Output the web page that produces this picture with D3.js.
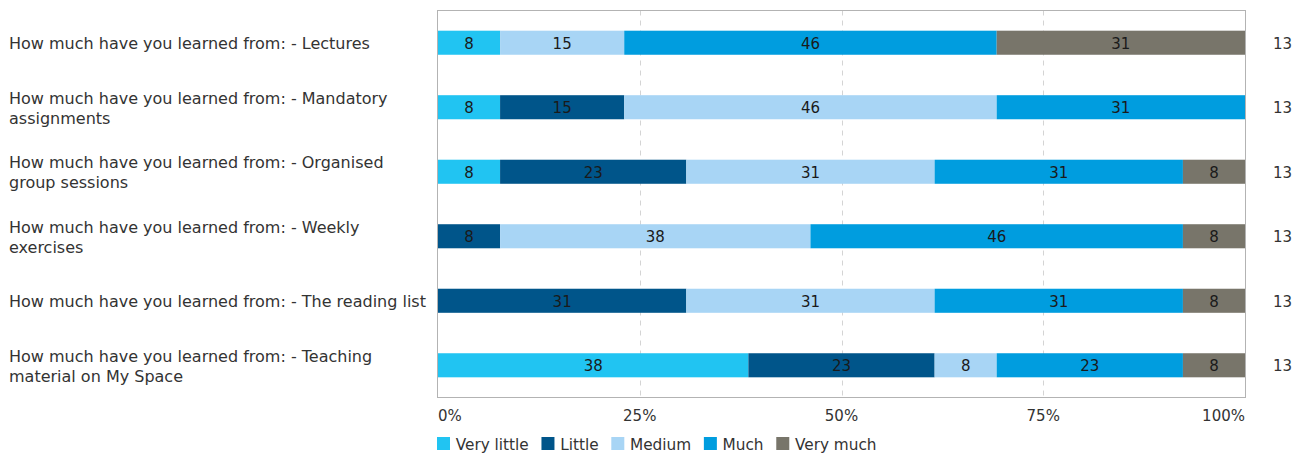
<!DOCTYPE html>
<html><head><meta charset="utf-8">
<script src="https://cdn.jsdelivr.net/npm/d3@7"></script>
<style>
body{margin:0;background:#fff;}
text{font-family:"DejaVu Sans",Verdana,sans-serif;}
</style></head>
<body><svg id="c" width="1295" height="454"></svg>
<script>
// Data: number of respondents per answer (n = 13 per question)
const categories = [
  "How much have you learned from: - Lectures",
  "How much have you learned from: - Mandatory\nassignments",
  "How much have you learned from: - Organised\ngroup sessions",
  "How much have you learned from: - Weekly\nexercises",
  "How much have you learned from: - The reading list",
  "How much have you learned from: - Teaching\nmaterial on My Space"
];
const seriesNames = ["Very little", "Little", "Medium", "Much", "Very much"];
const veryLittle = [1, 1, 1, 0, 0, 5];
const little     = [0, 2, 3, 1, 4, 3];
const medium     = [2, 6, 4, 5, 4, 1];
const much       = [6, 4, 4, 6, 4, 3];
const veryMuch   = [4, 0, 1, 1, 1, 1];
const totals     = [13, 13, 13, 13, 13, 13];
const tickValues = [0, 0.25, 0.5, 0.75, 1];
const tickLabels = ["0%", "25%", "50%", "75%", "100%"];
const colors = ["#21c4f2", "#00558a", "#a8d5f5", "#009ddf", "#78756a"];

(function(){
const series = [veryLittle, little, medium, much, veryMuch];
const svg = d3.select("#c");
const fs = 15, fsLabel = 16, fsLegend = 15.3;
const pL = 437.5, pR = 1245.5, pT = 10.5, pB = 397.5;

const x = d3.scaleLinear().domain([0, 1]).range([438, 1245]);
const y = d3.scaleBand().domain(d3.range(categories.length)).range([pT, pB]).paddingInner(0.627).paddingOuter(0.313);

svg.append("g").selectAll("line").data([0.25, 0.5, 0.75]).join("line")
  .attr("x1", d => Math.round(x(d)) + 0.5).attr("x2", d => Math.round(x(d)) + 0.5)
  .attr("y1", pT).attr("y2", pB)
  .attr("stroke", "#d4d4d4").attr("stroke-width", 1).attr("stroke-dasharray", "5,5");

svg.append("rect").attr("x", pL).attr("y", pT).attr("width", pR - pL).attr("height", pB - pT)
  .attr("fill", "none").attr("stroke", "#b3b3b3").attr("stroke-width", 1);

categories.forEach((c, i) => {
  let cum = 0;
  const g = svg.append("g");
  series.forEach((s, j) => {
    const v = s[i];
    if (v > 0) {
      const x0 = x(cum / totals[i]), x1 = x((cum + v) / totals[i]);
      g.append("rect").attr("x", x0).attr("y", y(i)).attr("width", x1 - x0).attr("height", y.bandwidth())
        .attr("fill", colors[j]);
      g.append("text").attr("x", (x0 + x1) / 2).attr("y", y(i) + y.bandwidth() / 2 + 1)
        .attr("text-anchor", "middle").attr("dominant-baseline", "central")
        .attr("font-size", fs).attr("fill", "#1a1a1a")
        .text(Math.round(v / totals[i] * 100));
    }
    cum += v;
  });
  const lines = c.split("\n");
  const cy = y(i) + y.bandwidth() / 2;
  const lh = 20;
  const t = svg.append("text").attr("x", 9).attr("font-size", fsLabel).attr("fill", "#333");
  lines.forEach((ln, k) => {
    t.append("tspan").attr("x", 9).attr("y", cy + 1 + (k - (lines.length - 1) / 2) * lh)
      .attr("dominant-baseline", "central").text(ln);
  });
  svg.append("text").attr("x", 1273).attr("y", cy + 1).attr("dominant-baseline", "central")
    .attr("font-size", fs).attr("fill", "#333").text(totals[i]);
});

svg.append("g").selectAll("text").data(tickValues).join("text")
  .attr("x", d => x(d)).attr("y", 416).attr("dominant-baseline", "central")
  .attr("text-anchor", (d, i) => i === 0 ? "start" : (i === tickValues.length - 1 ? "end" : "middle"))
  .attr("font-size", fs).attr("fill", "#333")
  .text((d, i) => tickLabels[i]);

const lg = svg.append("g");
let lx = 437;
seriesNames.forEach((n, j) => {
  lg.append("rect").attr("x", lx).attr("y", 437).attr("width", 13).attr("height", 13).attr("fill", colors[j]);
  const t = lg.append("text").attr("x", lx + 18.7).attr("y", 444.5).attr("dominant-baseline", "central")
    .attr("font-size", fsLegend).attr("fill", "#333").text(n);
  lx += 18.7 + t.node().getComputedTextLength() + 12.7;
});
})();
</script></body></html>
